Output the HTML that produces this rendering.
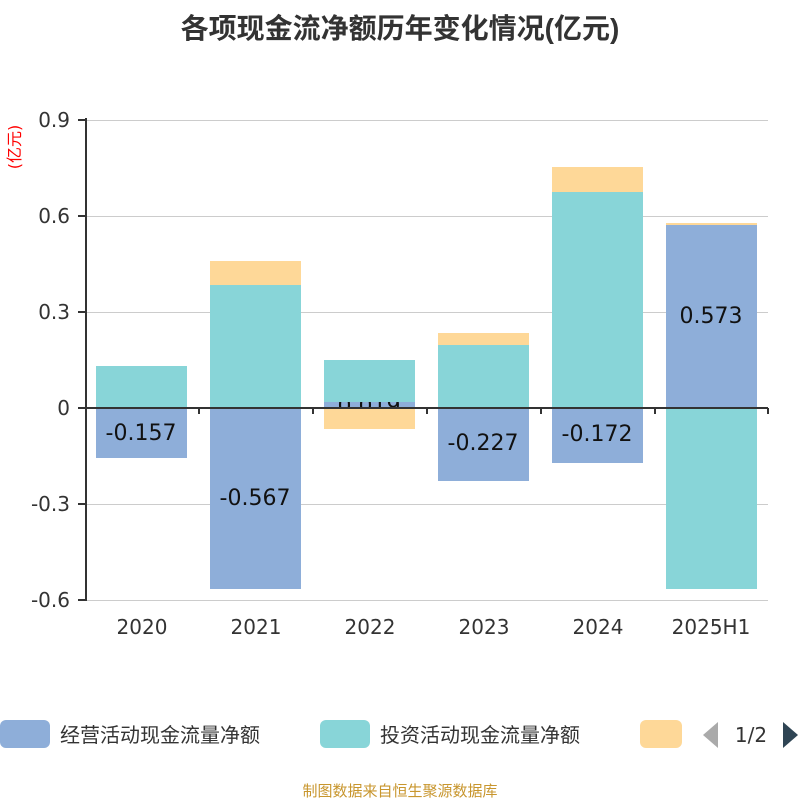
<!DOCTYPE html>
<html><head><meta charset="utf-8"><style>
body{margin:0;background:#fff;}
svg text{font-family:"DejaVu Sans","Noto Sans CJK SC",sans-serif;}
</style></head><body>
<svg width="800" height="800" xmlns="http://www.w3.org/2000/svg">
<rect width="800" height="800" fill="#fff"/>
<text x="400" y="38" text-anchor="middle" font-size="28" font-weight="bold" fill="#333" style="font-family:'Liberation Sans','Noto Sans CJK SC',sans-serif">各项现金流净额历年变化情况(亿元)</text>
<g stroke="#ccc" stroke-width="1">
<line x1="85" y1="120.5" x2="768" y2="120.5"/>
<line x1="85" y1="216.5" x2="768" y2="216.5"/>
<line x1="85" y1="312.5" x2="768" y2="312.5"/>
<line x1="85" y1="504.5" x2="768" y2="504.5"/>
<line x1="85" y1="600.5" x2="768" y2="600.5"/>
</g>
<g font-size="20" fill="#333" text-anchor="end">
<text x="70" y="127">0.9</text><text x="70" y="223">0.6</text><text x="70" y="319">0.3</text>
<text x="70" y="415">0</text><text x="70" y="511">-0.3</text><text x="70" y="607">-0.6</text>
</g>
<text transform="translate(20,147) rotate(-90)" text-anchor="middle" font-size="16" fill="red">(亿元)</text>
<g fill="#8eaed9">
<rect x="96" y="408" width="91" height="50"/>
<rect x="210" y="408" width="91" height="181"/>
<rect x="324" y="402" width="91" height="6"/>
<rect x="438" y="408" width="91" height="73"/>
<rect x="552" y="408" width="91" height="55"/>
<rect x="666" y="225" width="91" height="183"/>
</g>
<g font-size="22" fill="#111" text-anchor="middle">
<text x="141" y="440">-0.157</text>
<text x="255" y="505">-0.567</text>
<text x="369" y="413">0.019</text>
<text x="483" y="450">-0.227</text>
<text x="597" y="441">-0.172</text>
<text x="711" y="323">0.573</text>
</g>
<g fill="#88d5d8">
<rect x="96" y="366" width="91" height="42"/>
<rect x="210" y="285" width="91" height="123"/>
<rect x="324" y="360" width="91" height="42"/>
<rect x="438" y="345" width="91" height="63"/>
<rect x="552" y="192" width="91" height="216"/>
<rect x="666" y="408" width="91" height="181"/>
</g>
<g fill="#fed898">
<rect x="210" y="261" width="91" height="24"/>
<rect x="324" y="408" width="91" height="21"/>
<rect x="438" y="333" width="91" height="12"/>
<rect x="552" y="167" width="91" height="25"/>
<rect x="666" y="223" width="91" height="2"/>
</g>
<g stroke="#333" stroke-width="2">
<line x1="86" y1="118" x2="86" y2="601"/>
<line x1="78" y1="120" x2="86" y2="120"/><line x1="78" y1="216" x2="86" y2="216"/><line x1="78" y1="312" x2="86" y2="312"/>
<line x1="78" y1="408" x2="86" y2="408"/><line x1="78" y1="504" x2="86" y2="504"/><line x1="78" y1="600" x2="86" y2="600"/>
<line x1="86" y1="408" x2="768" y2="408"/>
<line x1="199" y1="408" x2="199" y2="414"/><line x1="313" y1="408" x2="313" y2="414"/><line x1="427" y1="408" x2="427" y2="414"/>
<line x1="541" y1="408" x2="541" y2="414"/><line x1="655" y1="408" x2="655" y2="414"/><line x1="768" y1="408" x2="768" y2="414"/>
</g>
<g font-size="20" fill="#333" text-anchor="middle">
<text x="142" y="634">2020</text><text x="256" y="634">2021</text><text x="370" y="634">2022</text>
<text x="484" y="634">2023</text><text x="598" y="634">2024</text><text x="711" y="634">2025H1</text>
</g>
<rect x="0" y="720" width="50" height="28" rx="6" fill="#8eaed9"/>
<text x="60" y="742" font-size="20" fill="#333">经营活动现金流量净额</text>
<rect x="320" y="720" width="50" height="28" rx="6" fill="#88d5d8"/>
<text x="380" y="742" font-size="20" fill="#333">投资活动现金流量净额</text>
<rect x="640" y="720" width="42" height="28" rx="6" fill="#fed898"/>
<polygon points="718,722 718,748 703,735" fill="#aaa"/>
<text x="751" y="742" font-size="20" fill="#333" text-anchor="middle">1/2</text>
<polygon points="783,722 783,748 798,735" fill="#2f4554"/>
<text x="400" y="796" font-size="15" fill="#c8962e" text-anchor="middle">制图数据来自恒生聚源数据库</text>
</svg>
</body></html>
